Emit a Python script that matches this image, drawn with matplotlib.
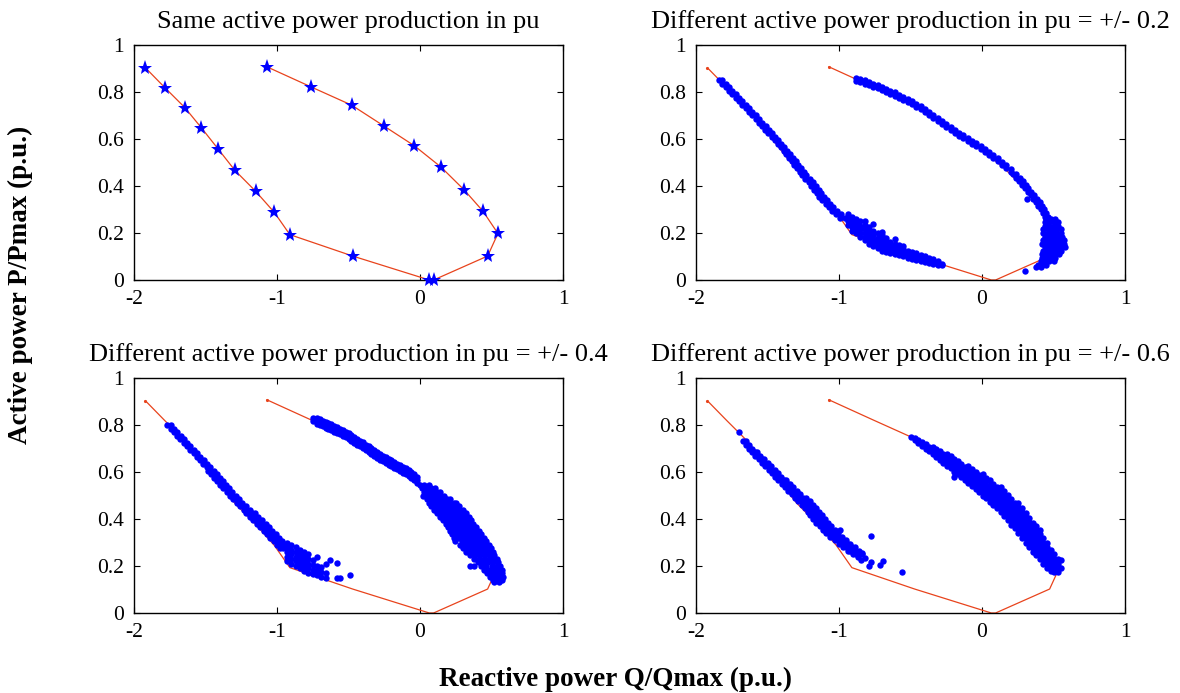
import matplotlib
matplotlib.use("Agg")
import matplotlib.pyplot as plt

plt.rcParams['font.family'] = ['Liberation Serif', 'DejaVu Serif']
plt.rcParams['axes.unicode_minus'] = False

# ---------------- data ----------------
titles = ["Same active power production in pu",
          "Different active power production in pu = +/- 0.2",
          "Different active power production in pu = +/- 0.4",
          "Different active power production in pu = +/- 0.6"]
xlabel_text = "Reactive power Q/Qmax (p.u.)"
ylabel_text = "Active power P/Pmax (p.u.)"
xticks = [-2, -1, 0, 1]
xtick_labels = ["-2", "-1", "0", "1"]
yticks = [0, 0.2, 0.4, 0.6, 0.8, 1]
ytick_labels = ["0", "0.2", "0.4", "0.6", "0.8", "1"]

# reference loop (red line / stars)
loop_q = [-1.92, -1.785, -1.645, -1.528, -1.411, -1.295, -1.150, -1.019, -0.910, -0.471,
          0.065, 0.095, 0.473, 0.545, 0.440, 0.311, 0.148, -0.039, -0.249, -0.478, -0.763, -1.070]
loop_p = [0.903, 0.819, 0.734, 0.647, 0.557, 0.467, 0.378, 0.288, 0.193, 0.102,
          0.0, 0.0, 0.102, 0.198, 0.293, 0.382, 0.480, 0.571, 0.654, 0.744, 0.822, 0.907]

# ---- panel 2 (+/- 0.2): rows are (P, [Q...]); cols are (Q, [P...])
p2_left_rows = [
    (0.850, [-1.836, -1.815]), (0.835, [-1.815, -1.791]), (0.820, [-1.792, -1.768]),
    (0.805, [-1.769, -1.745]), (0.790, [-1.746, -1.722]), (0.775, [-1.723, -1.699]),
    (0.760, [-1.700, -1.676]), (0.745, [-1.676, -1.652]), (0.730, [-1.653, -1.629]),
    (0.715, [-1.630, -1.606]), (0.700, [-1.606, -1.582]), (0.685, [-1.583, -1.559]),
    (0.670, [-1.559, -1.535]), (0.655, [-1.537, -1.513]), (0.640, [-1.516, -1.492]),
    (0.625, [-1.494, -1.470]), (0.610, [-1.471, -1.447]), (0.595, [-1.449, -1.425]),
    (0.580, [-1.427, -1.403]), (0.565, [-1.406, -1.382]), (0.550, [-1.387, -1.363]),
    (0.535, [-1.370, -1.342]), (0.520, [-1.351, -1.323]), (0.505, [-1.332, -1.304]),
    (0.490, [-1.313, -1.285]), (0.475, [-1.294, -1.266]), (0.460, [-1.276, -1.248]),
    (0.445, [-1.257, -1.229]), (0.430, [-1.235, -1.205]), (0.415, [-1.213, -1.183]),
    (0.400, [-1.193, -1.163]), (0.385, [-1.175, -1.143]), (0.370, [-1.156, -1.124]),
    (0.355, [-1.137, -1.105]), (0.340, [-1.116, -1.084]), (0.325, [-1.094, -1.062]),
    (0.310, [-1.071, -1.039]), (0.295, [-1.048, -1.016]), (0.280, [-1.022, -0.988]),
    (0.265, [-0.992, -0.958]),
]
p2_bottom_cols = [
    (-0.94, [0.235, 0.25, 0.265, 0.28]), (-0.91, [0.21, 0.225, 0.24, 0.255, 0.27]),
    (-0.88, [0.20, 0.215, 0.23, 0.245, 0.26]), (-0.85, [0.185, 0.20, 0.215, 0.23, 0.25]),
    (-0.82, [0.17, 0.185, 0.20, 0.215, 0.235, 0.25]), (-0.79, [0.155, 0.17, 0.19, 0.205, 0.225]),
    (-0.76, [0.145, 0.16, 0.175, 0.19, 0.21, 0.24]), (-0.73, [0.135, 0.15, 0.165, 0.18, 0.20]),
    (-0.70, [0.125, 0.14, 0.155, 0.17, 0.19, 0.205]), (-0.67, [0.12, 0.135, 0.15, 0.165, 0.18]),
    (-0.64, [0.115, 0.13, 0.145, 0.16]), (-0.61, [0.11, 0.125, 0.14, 0.155, 0.175]),
    (-0.58, [0.105, 0.12, 0.135, 0.15]), (-0.55, [0.10, 0.115, 0.13, 0.145]),
    (-0.52, [0.095, 0.11, 0.125]), (-0.49, [0.09, 0.105, 0.12]), (-0.46, [0.085, 0.10, 0.113]),
    (-0.43, [0.08, 0.093, 0.106]), (-0.40, [0.076, 0.088, 0.10]), (-0.37, [0.072, 0.083, 0.094]),
    (-0.34, [0.068, 0.078, 0.088]), (-0.31, [0.065, 0.074, 0.082]), (-0.28, [0.062, 0.070]),
]
p2_right_cols = [
    (-0.88, [0.846, 0.859]), (-0.85, [0.841, 0.854]), (-0.82, [0.836, 0.849]),
    (-0.79, [0.830, 0.843]), (-0.76, [0.823, 0.836]), (-0.73, [0.815, 0.828]),
    (-0.70, [0.808, 0.821]), (-0.67, [0.801, 0.814]), (-0.64, [0.793, 0.806]),
    (-0.61, [0.785, 0.798]), (-0.58, [0.776, 0.789]), (-0.55, [0.767, 0.780]),
    (-0.52, [0.758, 0.771]), (-0.49, [0.748, 0.761]), (-0.46, [0.737, 0.750]),
    (-0.43, [0.726, 0.739]), (-0.40, [0.715, 0.728]), (-0.37, [0.703, 0.716]),
    (-0.34, [0.691, 0.704]), (-0.31, [0.678, 0.691]), (-0.28, [0.665, 0.678]),
    (-0.25, [0.652, 0.665]), (-0.22, [0.639, 0.652]), (-0.19, [0.627, 0.640]),
    (-0.16, [0.614, 0.627]), (-0.13, [0.603, 0.616]), (-0.10, [0.591, 0.604]),
    (-0.07, [0.580, 0.593]), (-0.04, [0.570, 0.583]), (-0.01, [0.558, 0.571]),
    (0.02, [0.545, 0.558]), (0.05, [0.532, 0.545]), (0.08, [0.519, 0.532]),
    (0.11, [0.505, 0.518]), (0.14, [0.491, 0.504]), (0.17, [0.476, 0.489]),
    (0.20, [0.460, 0.473]),
]
p2_right_rows = [
    (0.450, [0.215, 0.24]), (0.435, [0.24, 0.265]), (0.420, [0.26, 0.285]),
    (0.405, [0.28, 0.305]), (0.390, [0.30, 0.325]), (0.375, [0.32, 0.345]),
    (0.360, [0.34, 0.365]), (0.345, [0.318, 0.36, 0.385]), (0.330, [0.38, 0.405]),
    (0.315, [0.395, 0.42]), (0.300, [0.41, 0.435]), (0.285, [0.425, 0.45]),
    (0.270, [0.44, 0.465]),
]
p2_cluster_rows = [
    (0.260, [0.45, 0.48, 0.51]), (0.245, [0.44, 0.47, 0.50, 0.53]),
    (0.230, [0.44, 0.47, 0.50, 0.53]), (0.215, [0.43, 0.46, 0.49, 0.52, 0.55]),
    (0.200, [0.43, 0.46, 0.49, 0.52, 0.55]), (0.185, [0.44, 0.47, 0.50, 0.53, 0.56]),
    (0.170, [0.43, 0.46, 0.49, 0.52, 0.55, 0.57]), (0.155, [0.42, 0.45, 0.48, 0.51, 0.54, 0.57]),
    (0.140, [0.44, 0.47, 0.50, 0.53, 0.56, 0.58]), (0.125, [0.43, 0.46, 0.49, 0.52, 0.55]),
    (0.110, [0.42, 0.45, 0.48, 0.51, 0.54]), (0.095, [0.42, 0.45, 0.48, 0.51]),
    (0.080, [0.41, 0.44, 0.47, 0.50]), (0.065, [0.39, 0.42, 0.45]),
    (0.055, [0.38, 0.41]), (0.040, [0.30]),
]

# ---- panel 3 (+/- 0.4)
p3_left_rows = [
    (0.800, [-1.767, -1.743]), (0.785, [-1.744, -1.720]), (0.770, [-1.721, -1.697]),
    (0.755, [-1.698, -1.674]), (0.740, [-1.675, -1.651]), (0.725, [-1.652, -1.628]),
    (0.710, [-1.629, -1.605]), (0.695, [-1.606, -1.582]), (0.680, [-1.583, -1.559]),
    (0.665, [-1.560, -1.536]), (0.650, [-1.537, -1.513]), (0.635, [-1.514, -1.490]),
    (0.620, [-1.490, -1.466]), (0.605, [-1.48, -1.46, -1.44]), (0.590, [-1.46, -1.44, -1.42]),
    (0.575, [-1.44, -1.42, -1.40]), (0.560, [-1.42, -1.40, -1.38]), (0.545, [-1.40, -1.38, -1.36]),
    (0.530, [-1.375, -1.355, -1.335]), (0.515, [-1.353, -1.333, -1.313]),
    (0.500, [-1.33, -1.31, -1.29]), (0.485, [-1.307, -1.287, -1.267]),
    (0.470, [-1.282, -1.262, -1.242]), (0.455, [-1.257, -1.237, -1.217]),
    (0.440, [-1.232, -1.212, -1.192]), (0.425, [-1.216, -1.196, -1.176, -1.156]),
    (0.410, [-1.19, -1.17, -1.15, -1.13]), (0.395, [-1.165, -1.145, -1.125, -1.105]),
    (0.380, [-1.139, -1.119, -1.099, -1.079]), (0.365, [-1.116, -1.096, -1.076, -1.056]),
    (0.350, [-1.093, -1.073, -1.053, -1.033]), (0.335, [-1.07, -1.05, -1.03, -1.01]),
    (0.320, [-1.047, -1.027, -1.007, -0.987]), (0.305, [-1.024, -1.004, -0.984, -0.964]),
    (0.290, [-1.001, -0.981, -0.961, -0.941]), (0.275, [-0.978, -0.958, -0.938]),
]
p3_left_cols = [
    (-0.93, [0.22, 0.24, 0.26, 0.28, 0.30]), (-0.90, [0.21, 0.23, 0.25, 0.27, 0.29]),
    (-0.87, [0.20, 0.22, 0.24, 0.26, 0.28]), (-0.84, [0.19, 0.21, 0.23, 0.25, 0.27]),
    (-0.81, [0.18, 0.20, 0.22, 0.24, 0.26]), (-0.78, [0.17, 0.19, 0.21, 0.23, 0.25]),
    (-0.75, [0.165, 0.185, 0.205, 0.225]), (-0.72, [0.16, 0.18, 0.20, 0.24]),
    (-0.69, [0.155, 0.175, 0.195]), (-0.66, [0.15, 0.17, 0.21]), (-0.63, [0.227]),
    (-0.58, [0.15, 0.213]), (-0.56, [0.15]), (-0.49, [0.16]),
]
p3_right_cols = [
    (-0.745, [0.818, 0.830]), (-0.72, [0.804, 0.817, 0.829]), (-0.70, [0.799, 0.812, 0.824]),
    (-0.68, [0.794, 0.807, 0.819]), (-0.66, [0.789, 0.802, 0.814]), (-0.64, [0.784, 0.797, 0.809]),
    (-0.62, [0.778, 0.791, 0.803]), (-0.60, [0.772, 0.785, 0.797]), (-0.58, [0.766, 0.779, 0.791]),
    (-0.56, [0.760, 0.773, 0.785]), (-0.54, [0.753, 0.766, 0.778]), (-0.52, [0.747, 0.760, 0.772]),
    (-0.50, [0.740, 0.753, 0.765]), (-0.48, [0.733, 0.746, 0.758]), (-0.46, [0.725, 0.738, 0.750]),
    (-0.44, [0.717, 0.730, 0.742]), (-0.42, [0.709, 0.722, 0.734]), (-0.40, [0.701, 0.714, 0.726]),
    (-0.38, [0.692, 0.705, 0.717]), (-0.36, [0.685, 0.698, 0.710]), (-0.34, [0.677, 0.690, 0.702]),
    (-0.32, [0.669, 0.682, 0.694]), (-0.30, [0.661, 0.674, 0.686]), (-0.28, [0.653, 0.666, 0.678]),
    (-0.26, [0.645, 0.658, 0.670]), (-0.24, [0.638, 0.651, 0.663]), (-0.22, [0.631, 0.644, 0.656]),
    (-0.20, [0.624, 0.637, 0.649]), (-0.18, [0.617, 0.630, 0.642]), (-0.16, [0.611, 0.624, 0.636]),
    (-0.14, [0.604, 0.617, 0.629]), (-0.12, [0.597, 0.610, 0.622]), (-0.10, [0.590, 0.603, 0.615]),
    (-0.08, [0.583, 0.596, 0.608]), (-0.06, [0.575, 0.588, 0.600]), (-0.04, [0.565, 0.578, 0.590]),
    (-0.02, [0.555, 0.568, 0.580]),
]
p3_right_rows = [
    (0.545, [0.00, 0.03, 0.06]), (0.530, [0.015, 0.045, 0.075, 0.105]),
    (0.515, [0.03, 0.06, 0.09, 0.12, 0.14]), (0.500, [0.02, 0.04, 0.075, 0.11, 0.145, 0.17]),
    (0.485, [0.05, 0.085, 0.12, 0.155, 0.19, 0.21]),
    (0.470, [0.06, 0.095, 0.13, 0.165, 0.20, 0.235, 0.25]),
    (0.455, [0.08, 0.115, 0.15, 0.185, 0.22, 0.255, 0.275]),
    (0.440, [0.10, 0.135, 0.17, 0.205, 0.24, 0.275, 0.30]),
    (0.425, [0.12, 0.155, 0.19, 0.225, 0.26, 0.295, 0.32]),
    (0.410, [0.14, 0.175, 0.21, 0.245, 0.28, 0.315, 0.34]),
    (0.395, [0.16, 0.195, 0.23, 0.265, 0.30, 0.335, 0.355]),
    (0.380, [0.18, 0.215, 0.25, 0.285, 0.32, 0.355, 0.37]),
    (0.365, [0.195, 0.23, 0.265, 0.30, 0.335, 0.37, 0.39]),
    (0.350, [0.21, 0.245, 0.28, 0.315, 0.35, 0.385, 0.41]),
    (0.335, [0.225, 0.26, 0.295, 0.33, 0.365, 0.40, 0.43]),
    (0.320, [0.24, 0.275, 0.31, 0.345, 0.38, 0.415, 0.45]),
    (0.305, [0.245, 0.295, 0.33, 0.365, 0.40, 0.435, 0.465]),
    (0.290, [0.28, 0.315, 0.35, 0.385, 0.42, 0.455, 0.48]),
    (0.275, [0.30, 0.335, 0.37, 0.405, 0.44, 0.475, 0.495]),
    (0.260, [0.32, 0.355, 0.39, 0.425, 0.46, 0.495, 0.51]),
    (0.245, [0.35, 0.385, 0.42, 0.455, 0.49, 0.52]),
    (0.230, [0.38, 0.415, 0.45, 0.485, 0.52, 0.54]),
    (0.215, [0.405, 0.44, 0.475, 0.51, 0.545]),
    (0.200, [0.35, 0.378, 0.43, 0.465, 0.50, 0.535, 0.56]),
    (0.185, [0.45, 0.485, 0.52, 0.555, 0.57]),
    (0.170, [0.47, 0.505, 0.54, 0.57]),
    (0.155, [0.49, 0.525, 0.56, 0.58]),
    (0.140, [0.51, 0.545, 0.575]),
    (0.130, [0.52, 0.55]),
]

# ---- panel 4 (+/- 0.6)
p4_left_rows = [
    (0.769, [-1.696]), (0.730, [-1.67, -1.65]), (0.715, [-1.65, -1.63]),
    (0.700, [-1.63, -1.61]), (0.685, [-1.61, -1.59, -1.575]),
    (0.670, [-1.585, -1.565, -1.55]), (0.655, [-1.56, -1.54, -1.525]),
    (0.640, [-1.54, -1.52, -1.50]), (0.625, [-1.515, -1.495, -1.475]),
    (0.610, [-1.49, -1.47, -1.45]), (0.595, [-1.47, -1.45, -1.43]),
    (0.580, [-1.445, -1.425, -1.405]), (0.565, [-1.425, -1.405, -1.385, -1.37]),
    (0.550, [-1.40, -1.38, -1.36, -1.345]), (0.535, [-1.375, -1.355, -1.335, -1.32]),
    (0.520, [-1.355, -1.335, -1.315, -1.295]), (0.505, [-1.33, -1.31, -1.29, -1.27]),
    (0.490, [-1.31, -1.29, -1.27, -1.25, -1.23]), (0.475, [-1.285, -1.265, -1.245, -1.225, -1.205]),
    (0.460, [-1.26, -1.24, -1.22, -1.20, -1.18]), (0.445, [-1.24, -1.22, -1.20, -1.18, -1.16]),
    (0.430, [-1.22, -1.20, -1.18, -1.16, -1.14]), (0.415, [-1.20, -1.18, -1.16, -1.14, -1.12]),
    (0.400, [-1.18, -1.16, -1.14, -1.12, -1.10]), (0.385, [-1.16, -1.14, -1.12, -1.10, -1.08]),
    (0.370, [-1.135, -1.115, -1.095, -1.075, -1.055]),
    (0.355, [-1.11, -1.09, -1.07, -1.05, -1.03, -0.99]),
    (0.340, [-1.09, -1.07, -1.05, -1.03, -1.01]), (0.325, [-1.06, -1.04, -1.02, -1.00, -0.98]),
    (0.310, [-1.03, -1.01, -0.99, -0.97, -0.95]), (0.295, [-1.00, -0.98, -0.96, -0.94, -0.92]),
    (0.280, [-0.97, -0.95, -0.93, -0.91, -0.89]), (0.265, [-0.94, -0.92, -0.90, -0.88, -0.86]),
    (0.250, [-0.90, -0.88, -0.86, -0.84]),
]
p4_left_outliers_q = [-0.775, -0.84, -0.845, -0.775, -0.79, -0.71, -0.69, -0.56, -0.87, -0.82]
p4_left_outliers_p = [0.329, 0.256, 0.227, 0.218, 0.20, 0.205, 0.222, 0.176, 0.24, 0.235]
p4_right_cols = [
    (-0.495, [0.748]), (-0.47, [0.735, 0.745]), (-0.445, [0.722, 0.737]),
    (-0.42, [0.712, 0.728]), (-0.395, [0.70, 0.718]), (-0.37, [0.69, 0.708]),
    (-0.345, [0.675, 0.693, 0.705]), (-0.32, [0.665, 0.683, 0.697]),
    (-0.295, [0.652, 0.67, 0.688]), (-0.27, [0.64, 0.658, 0.676]),
    (-0.245, [0.625, 0.643, 0.661, 0.675]), (-0.22, [0.615, 0.633, 0.651, 0.666]),
    (-0.195, [0.58, 0.60, 0.618, 0.636, 0.655]), (-0.17, [0.59, 0.608, 0.626, 0.645]),
    (-0.145, [0.578, 0.596, 0.614, 0.632]), (-0.12, [0.565, 0.583, 0.601, 0.62]),
    (-0.095, [0.553, 0.571, 0.589, 0.607, 0.625]), (-0.07, [0.54, 0.558, 0.576, 0.594, 0.612]),
    (-0.045, [0.528, 0.546, 0.564, 0.582, 0.60]), (-0.02, [0.515, 0.533, 0.551, 0.569, 0.587]),
    (0.005, [0.50, 0.518, 0.536, 0.554, 0.572, 0.59]), (0.03, [0.488, 0.506, 0.524, 0.542, 0.56, 0.576]),
    (0.055, [0.474, 0.492, 0.51, 0.528, 0.546, 0.564]), (0.08, [0.46, 0.478, 0.496, 0.514, 0.532, 0.55]),
    (0.105, [0.445, 0.463, 0.481, 0.499, 0.517, 0.535]),
    (0.13, [0.43, 0.448, 0.466, 0.484, 0.502, 0.52, 0.536]),
    (0.155, [0.412, 0.43, 0.448, 0.466, 0.484, 0.502, 0.52]),
    (0.18, [0.395, 0.413, 0.431, 0.449, 0.467, 0.485, 0.503]),
    (0.205, [0.375, 0.393, 0.411, 0.429, 0.447, 0.465, 0.485]),
    (0.23, [0.36, 0.378, 0.396, 0.414, 0.432, 0.45, 0.47]),
    (0.255, [0.34, 0.358, 0.376, 0.394, 0.412, 0.43, 0.45, 0.47]),
    (0.28, [0.32, 0.338, 0.356, 0.374, 0.392, 0.41, 0.428, 0.445]),
    (0.305, [0.30, 0.318, 0.336, 0.354, 0.372, 0.39, 0.408, 0.425]),
    (0.33, [0.28, 0.298, 0.316, 0.334, 0.352, 0.37, 0.388, 0.405]),
    (0.355, [0.26, 0.278, 0.296, 0.314, 0.332, 0.35, 0.368, 0.385]),
    (0.38, [0.245, 0.263, 0.281, 0.299, 0.317, 0.335, 0.353, 0.37]),
    (0.405, [0.23, 0.248, 0.266, 0.284, 0.302, 0.32, 0.338, 0.355]),
    (0.43, [0.21, 0.228, 0.246, 0.264, 0.282, 0.30, 0.32]),
    (0.455, [0.19, 0.208, 0.226, 0.244, 0.262, 0.28, 0.30]),
    (0.48, [0.18, 0.198, 0.216, 0.234, 0.252, 0.27]),
    (0.505, [0.175, 0.193, 0.211, 0.229, 0.25]),
    (0.53, [0.175, 0.19, 0.21, 0.228]),
    (0.55, [0.19, 0.225]),
]


def from_rows(rows):
    q = [x for y, xs in rows for x in xs]
    p = [y for y, xs in rows for x in xs]
    return q, p


def from_cols(cols):
    q = [x for x, ys in cols for y in ys]
    p = [y for x, ys in cols for y in ys]
    return q, p


panel_clouds = [
    [],
    [from_rows(p2_left_rows), from_cols(p2_bottom_cols), from_cols(p2_right_cols),
     from_rows(p2_right_rows), from_rows(p2_cluster_rows)],
    [from_rows(p3_left_rows), from_cols(p3_left_cols), from_cols(p3_right_cols),
     from_rows(p3_right_rows)],
    [from_rows(p4_left_rows), (p4_left_outliers_q, p4_left_outliers_p), from_cols(p4_right_cols)],
]

# ---------------- figure ----------------
W, H = 1180, 693
fig = plt.figure(figsize=(W / 100, H / 100), dpi=100)
fig.patch.set_facecolor('white')

# axes boxes in pixels: left, top, right, bottom
boxes = [(134, 45, 563, 280), (696, 45, 1125, 280),
         (134, 378, 563, 613), (696, 378, 1125, 613)]

RED = '#E8431C'
BLUE = '#0000FF'
FS = 15.5

for i, (l, t, r, b) in enumerate(boxes):
    ax = fig.add_axes([l / W, 1 - b / H, (r - l) / W, (b - t) / H])
    ax.set_xlim(-2, 1)
    ax.set_ylim(0, 1)
    if i == 0:
        ax.plot(loop_q, loop_p, '-', color=RED, lw=0.9, zorder=2)
        ax.plot(loop_q, loop_p, '*', color=BLUE, ms=11, mew=0, zorder=3, clip_on=False)
    else:
        ax.plot(loop_q, loop_p, '-', color=RED, lw=0.9, zorder=2,
                marker='.', markevery=[0, len(loop_q) - 1], ms=2.5)
        for q, p in panel_clouds[i]:
            ax.plot(q, p, 'o', color=BLUE, ms=4.6, mew=0, linestyle='none', zorder=3)
    ax.set_xticks(xticks)
    ax.set_xticklabels(xtick_labels)
    ax.set_yticks(yticks)
    ax.set_yticklabels(ytick_labels)
    ax.tick_params(direction='in', top=True, right=True, length=4, width=0.8,
                   labelsize=FS, pad=7)
    for s in ax.spines.values():
        s.set_linewidth(1.0)
    ax.set_title(titles[i], fontsize=19, pad=12)

fig.text(0.017, 0.589, ylabel_text, rotation=90, ha='center', va='center',
         fontsize=19.5, fontweight='bold')
fig.text(0.522, 0.019, xlabel_text, ha='center', va='center',
         fontsize=19.5, fontweight='bold')

fig.savefig('out.png', dpi=100)
